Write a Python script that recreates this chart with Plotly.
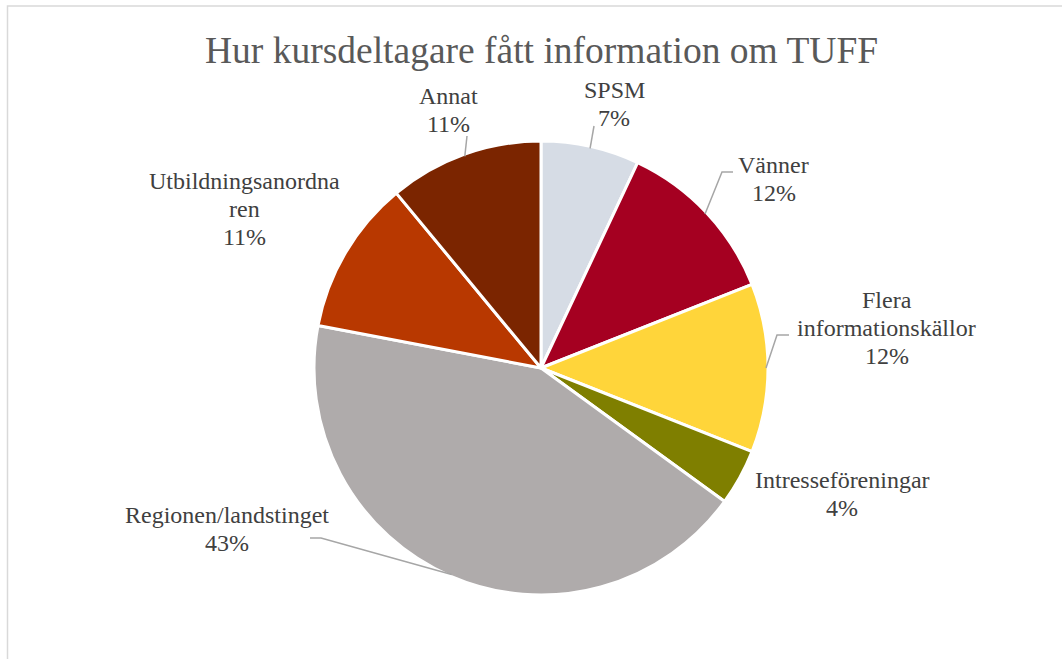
import math
import plotly.graph_objects as go

# ---- data ----
categories = ["SPSM", "Vänner", "Flera informationskällor", "Intresseföreningar",
              "Regionen/landstinget", "Utbildningsanordnaren", "Annat"]
values = [7, 12, 12, 4, 43, 11, 11]
label_lines = [["SPSM"], ["Vänner"], ["Flera", "informationskällor"], ["Intresseföreningar"],
               ["Regionen/landstinget"], ["Utbildningsanordna", "ren"], ["Annat"]]
colors = ["#D6DCE5", "#A50021", "#FFD53A", "#7F7F00", "#AFABAB", "#B83800", "#7B2500"]
title_text = "Hur kursdeltagare fått information om TUFF"

# ---- layout constants (screen pixels) ----
W, H = 1062, 659
CX, CY, R = 541, 368, 227
label_pos = [(614, 90), (774, 165), (887, 300), (842, 480), (227, 515), (244, 181), (448, 96)]
leaders = [[(594, 126)], [(733, 172), (722, 172)], [(789, 335), (777, 335)], None,
           [(310, 538), (321, 538)], None, [(467, 136)]]
LINE = 28
FONT = "Liberation Serif"

def px(x):
    return x / W

def py(y):
    return 1 - y / H

fig = go.Figure(go.Pie(
    labels=categories, values=values, sort=False, direction="clockwise", rotation=0,
    marker=dict(colors=colors, line=dict(color="white", width=3)),
    textinfo="none", hoverinfo="label+percent", showlegend=False,
    domain=dict(x=[px(CX - R), px(CX + R)], y=[py(CY + R), py(CY - R)]),
))

total = sum(values)
annotations = []
shapes = []
cum = 0
for i, (lines, v) in enumerate(zip(label_lines, values)):
    frac = v / total
    mid = (cum + frac / 2) * 2 * math.pi
    cum += frac
    pct = f"{round(frac * 100)}%"
    lx, ly = label_pos[i]
    for j, t in enumerate(lines + [pct]):
        annotations.append(dict(
            x=px(lx), y=py(ly + j * LINE), xref="paper", yref="paper",
            text=t, showarrow=False, xanchor="center", yanchor="middle",
            font=dict(family=FONT, size=24, color="#404040"),
        ))
    if leaders[i]:
        ex = CX + (R - 2) * math.sin(mid)
        ey = CY - (R - 2) * math.cos(mid)
        pts = leaders[i] + [(ex, ey)]
        path = "M " + " L ".join(f"{px(a)},{py(b)}" for a, b in pts)
        shapes.append(dict(type="path", xref="paper", yref="paper", path=path,
                           line=dict(color="#A6A6A6", width=1.5)))

# chart frame
shapes.append(dict(type="rect", xref="paper", yref="paper",
                   x0=px(7.5), x1=px(W + 40), y0=py(H + 40), y1=py(6),
                   line=dict(color="#D9D9D9", width=1.5), fillcolor="rgba(0,0,0,0)", layer="below"))

annotations.append(dict(
    x=px(CX), y=py(50), xref="paper", yref="paper", text=title_text, showarrow=False,
    xanchor="center", yanchor="middle",
    font=dict(family=FONT, size=37.5, color="#595959"),
))

fig.update_layout(
    width=W, height=H, margin=dict(l=0, r=0, t=0, b=0),
    paper_bgcolor="white", plot_bgcolor="white",
    annotations=annotations, shapes=shapes,
)

fig.write_html("out.html", config={"displayModeBar": False},
               post_script="document.body.style.margin='0';")
